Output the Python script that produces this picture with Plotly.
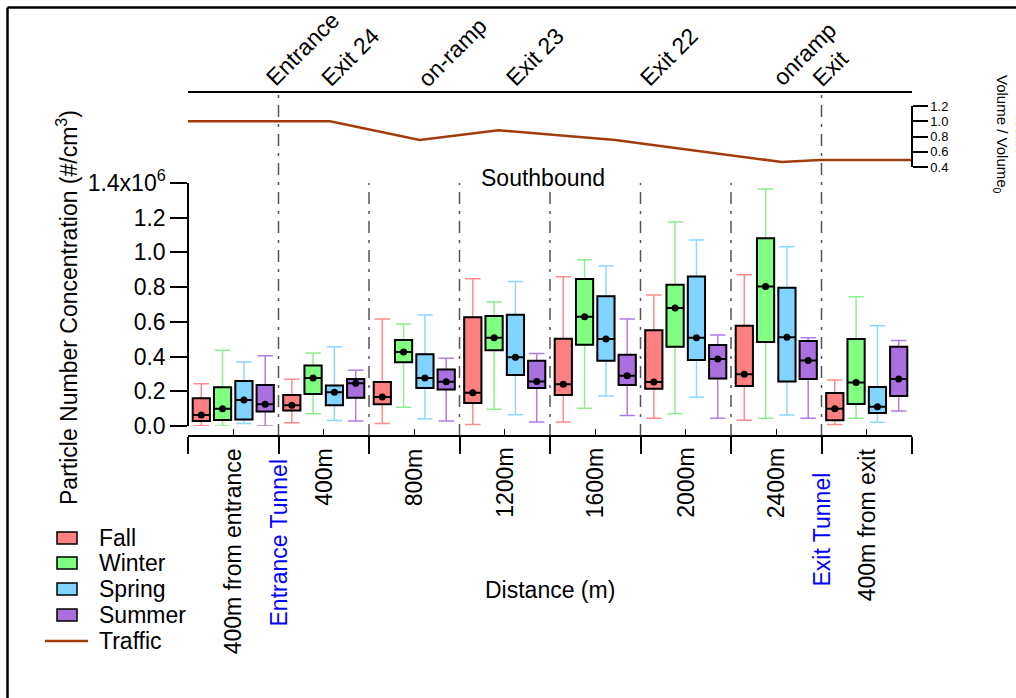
import plotly.graph_objects as go

# ---------------- data ----------------
categories = ["400m from entrance", "400m", "800m", "1200m", "1600m", "2000m", "2400m", "400m from exit"]
boundary_labels = ["Entrance Tunnel", "Exit Tunnel"]
boundary_pos = [1.0, 7.0]
seasons = ["Fall", "Winter", "Spring", "Summer"]

# particle number concentration (#/cm3), values in units of 1e6
fall_upper = [0.244, 0.269, 0.616, 0.849, 0.860, 0.755, 0.872, 0.265]
fall_q3 = [0.160, 0.179, 0.253, 0.626, 0.503, 0.551, 0.578, 0.190]
fall_median = [0.063, 0.119, 0.167, 0.192, 0.240, 0.253, 0.298, 0.100]
fall_q1 = [0.029, 0.090, 0.125, 0.132, 0.179, 0.215, 0.230, 0.033]
fall_lower = [0.002, 0.019, 0.015, 0.008, 0.023, 0.044, 0.033, 0.008]

winter_upper = [0.436, 0.420, 0.588, 0.714, 0.958, 1.175, 1.365, 0.745]
winter_q3 = [0.223, 0.349, 0.495, 0.634, 0.847, 0.814, 1.081, 0.501]
winter_median = [0.100, 0.277, 0.426, 0.509, 0.630, 0.680, 0.803, 0.250]
winter_q1 = [0.035, 0.184, 0.367, 0.436, 0.468, 0.457, 0.484, 0.127]
winter_lower = [0.000, 0.071, 0.108, 0.096, 0.102, 0.071, 0.044, 0.044]

spring_upper = [0.369, 0.457, 0.639, 0.833, 0.922, 1.072, 1.033, 0.578]
spring_q3 = [0.259, 0.234, 0.413, 0.641, 0.747, 0.862, 0.797, 0.225]
spring_median = [0.150, 0.194, 0.277, 0.396, 0.501, 0.509, 0.511, 0.111]
spring_q1 = [0.038, 0.119, 0.219, 0.294, 0.376, 0.380, 0.257, 0.075]
spring_lower = [0.015, 0.031, 0.042, 0.065, 0.173, 0.165, 0.063, 0.021]

summer_upper = [0.405, 0.321, 0.390, 0.417, 0.616, 0.524, 0.509, 0.492]
summer_q3 = [0.236, 0.271, 0.326, 0.376, 0.411, 0.467, 0.490, 0.457]
summer_median = [0.125, 0.246, 0.255, 0.257, 0.290, 0.386, 0.378, 0.271]
summer_q1 = [0.083, 0.163, 0.211, 0.219, 0.236, 0.273, 0.271, 0.173]
summer_lower = [0.000, 0.029, 0.029, 0.023, 0.061, 0.044, 0.044, 0.086]

# traffic volume relative to entrance (position in category units)
traffic_x = [0.0, 1.57, 2.56, 3.43, 4.72, 6.56, 6.98, 8.0]
traffic_y = [1.0, 1.0, 0.754, 0.881, 0.754, 0.466, 0.492, 0.492]

landmarks = ["Entrance", "Exit 24", "on-ramp", "Exit 23", "Exit 22", "onramp", "Exit"]
landmark_x = [0.884, 1.492, 2.564, 3.536, 5.017, 6.486, 6.928]

y_tickvals = [0.0, 0.2, 0.4, 0.6, 0.8, 1.0, 1.2, 1.4]
y_ticktext = ["0.0", "0.2", "0.4", "0.6", "0.8", "1.0", "1.2", "1.4x10<sup>6</sup>"]
t_tickvals = [0.4, 0.6, 0.8, 1.0, 1.2]
t_ticktext = ["0.4", "0.6", "0.8", "1.0", "1.2"]

# ---------------- style ----------------
FONT = "Liberation Sans, Arial, Helvetica, sans-serif"
FS = 23
fill_colors = ["#FF8080", "#80FF80", "#80D4FF", "#AA70E0"]
whisker_colors = ["#FF8C8C", "#8CF08C", "#8CD8FF", "#B07EE6"]
traffic_color = "#A33C0C"
offsets = [0.147, 0.382, 0.618, 0.853]
BOX_W = 0.19
SCALE = 1e6

W, H = 1016, 698
L, R, T, B = 188, 104, 20, 262
PW, PH = W - L - R, H - T - B


def px(x):
    return (x - L) / PW


def py(y):
    return (H - B - y) / PH


stats = {
    "Fall": (fall_lower, fall_q1, fall_median, fall_q3, fall_upper),
    "Winter": (winter_lower, winter_q1, winter_median, winter_q3, winter_upper),
    "Spring": (spring_lower, spring_q1, spring_median, spring_q3, spring_upper),
    "Summer": (summer_lower, summer_q1, summer_median, summer_q3, summer_upper),
}

fig = go.Figure()


def sc(v):
    return [a * SCALE for a in v]


# whiskers (coloured)
for i, s in enumerate(seasons):
    lo, q1, me, q3, up = stats[s]
    xs = [c + offsets[i] for c in range(len(categories))]
    fig.add_trace(go.Box(
        x=xs, q1=sc(q1), median=sc(me), q3=sc(q3), lowerfence=sc(lo), upperfence=sc(up),
        width=BOX_W, whiskerwidth=0.9, fillcolor=fill_colors[i],
        line=dict(color=whisker_colors[i], width=1.5), showlegend=False, hoverinfo="skip"))
# boxes (black outline)
for i, s in enumerate(seasons):
    lo, q1, me, q3, up = stats[s]
    xs = [c + offsets[i] for c in range(len(categories))]
    fig.add_trace(go.Box(
        x=xs, q1=sc(q1), median=sc(me), q3=sc(q3), lowerfence=sc(q1), upperfence=sc(q3),
        width=BOX_W, whiskerwidth=0, fillcolor=fill_colors[i],
        line=dict(color="black", width=2), showlegend=False, hoverinfo="skip"))
# median dots
for i, s in enumerate(seasons):
    lo, q1, me, q3, up = stats[s]
    xs = [c + offsets[i] for c in range(len(categories))]
    fig.add_trace(go.Scatter(x=xs, y=sc(me), mode="markers",
                             marker=dict(color="black", size=7), showlegend=False, hoverinfo="skip"))

# traffic line
fig.add_trace(go.Scatter(x=traffic_x, y=traffic_y, mode="lines", xaxis="x2", yaxis="y2",
                         line=dict(color=traffic_color, width=2.5), showlegend=False, hoverinfo="skip"))

ncat = len(categories)
fig.update_layout(
    width=W, height=H, margin=dict(l=L, r=R, t=T, b=B, autoexpand=False),
    paper_bgcolor="white", plot_bgcolor="rgba(0,0,0,0)",
    font=dict(family=FONT, size=FS, color="black"),
    boxmode="overlay", showlegend=False,
    xaxis=dict(domain=[0, 1], range=[0, ncat], anchor="free", position=0, automargin=False,
               showline=True, linecolor="black", linewidth=1.5, showgrid=False, zeroline=False,
               tickmode="array", tickvals=list(range(ncat + 1)), showticklabels=False,
               ticks="outside", ticklen=17, tickwidth=1.5, tickcolor="black",
               minor=dict(tickmode="array", tickvals=[c + 0.5 for c in range(ncat)],
                          ticks="inside", ticklen=6, tickwidth=1.2, tickcolor="black")),
    yaxis=dict(domain=[py(426), py(183)], range=[0, 1.4 * SCALE], anchor="free", position=0,
               automargin=False,
               showline=True, linecolor="black", linewidth=1.5, showgrid=False, zeroline=False,
               tickmode="array", tickvals=[v * SCALE for v in y_tickvals], ticktext=y_ticktext,
               ticks="outside", ticklen=17, tickwidth=1.5, tickcolor="black",
               tickfont=dict(size=FS)),
    xaxis2=dict(domain=[0, 1], range=[0, ncat], anchor="free", position=py(92), side="top",
                automargin=False,
                showline=True, linecolor="black", linewidth=1.5, showgrid=False, zeroline=False,
                showticklabels=False, ticks=""),
    yaxis2=dict(domain=[py(167), py(106)], range=[0.4, 1.2], anchor="free", position=1, side="right",
                automargin=False,
                showline=True, linecolor="black", linewidth=1.5, showgrid=False, zeroline=False,
                tickmode="array", tickvals=t_tickvals, ticktext=t_ticktext,
                ticks="outside", ticklen=15, tickwidth=1.5, tickcolor="black",
                tickfont=dict(size=13)),
)

shapes = []
DASH = "12px,7px,3px,7px"
for b in range(1, ncat):
    top = py(95) if b in boundary_pos else py(183)
    shapes.append(dict(type="line", xref="x", yref="paper", x0=b, x1=b, y0=0, y1=top,
                       line=dict(color="#555555", width=1.5, dash=DASH), layer="below"))
# outer frame
shapes.append(dict(type="line", xref="paper", yref="paper", x0=px(7.5), x1=px(1030), y0=py(7.5), y1=py(7.5),
                   line=dict(color="black", width=2.5)))
shapes.append(dict(type="line", xref="paper", yref="paper", x0=px(7.5), x1=px(7.5), y0=py(7.5), y1=py(710),
                   line=dict(color="black", width=2.5)))

annotations = []
# bottom category labels
for c, lab in enumerate(categories):
    annotations.append(dict(text=lab, x=c + 0.5, y=py(446), xref="x", yref="paper",
                            xanchor="center", yanchor="top", textangle=-90, showarrow=False,
                            font=dict(size=FS)))
for lab, pos, top in zip(boundary_labels, boundary_pos, [457, 471]):
    annotations.append(dict(text=lab, x=pos, y=py(top), xref="x", yref="paper",
                            xanchor="center", yanchor="top", textangle=-90, showarrow=False,
                            font=dict(size=FS, color="#0000FF")))
# landmarks on top
for lab, pos in zip(landmarks, landmark_x):
    annotations.append(dict(text=lab, x=pos, y=py(94), xref="x", yref="paper", xshift=-10,
                            xanchor="left", yanchor="bottom", textangle=-45, showarrow=False,
                            font=dict(size=FS)))
annotations.append(dict(text="Southbound", x=px(543), y=py(178), xref="paper", yref="paper",
                        xanchor="center", yanchor="middle", showarrow=False, font=dict(size=FS)))
annotations.append(dict(text="Distance (m)", x=px(550), y=py(590), xref="paper", yref="paper",
                        xanchor="center", yanchor="middle", showarrow=False, font=dict(size=FS)))
annotations.append(dict(text="Particle Number Concentration (#/cm<sup>3</sup>)", x=px(67), y=py(308),
                        xref="paper", yref="paper", xanchor="center", yanchor="middle",
                        textangle=-90, showarrow=False, font=dict(size=FS)))
annotations.append(dict(text="Traffic<br>Volume / Volume<sub>0</sub>", x=px(1011), y=py(135),
                        xref="paper", yref="paper", xanchor="center", yanchor="middle",
                        textangle=90, showarrow=False, font=dict(size=15)))

# legend
leg_y = [538, 563, 589, 615]
for i, s in enumerate(seasons):
    yc = leg_y[i]
    shapes.append(dict(type="rect", xref="paper", yref="paper", x0=px(57), x1=px(77),
                       y0=py(yc + 6), y1=py(yc - 6), fillcolor=fill_colors[i],
                       line=dict(color="black", width=1.5)))
    annotations.append(dict(text=s, x=px(97), y=py(yc), xref="paper", yref="paper",
                            xanchor="left", yanchor="middle", showarrow=False, font=dict(size=FS)))
shapes.append(dict(type="line", xref="paper", yref="paper", x0=px(45), x1=px(88), y0=py(641), y1=py(641),
                   line=dict(color=traffic_color, width=2.5)))
annotations.append(dict(text="Traffic", x=px(97), y=py(641), xref="paper", yref="paper",
                        xanchor="left", yanchor="middle", showarrow=False, font=dict(size=FS)))

fig.update_layout(shapes=shapes, annotations=annotations)

post = ("document.body.style.margin='0px';"
        "var gd=document.getElementById('{plot_id}');"
        "gd.style.position='absolute';gd.style.left='0px';gd.style.top='0px';")
fig.write_html("out.html", post_script=post, config={"displayModeBar": False})
